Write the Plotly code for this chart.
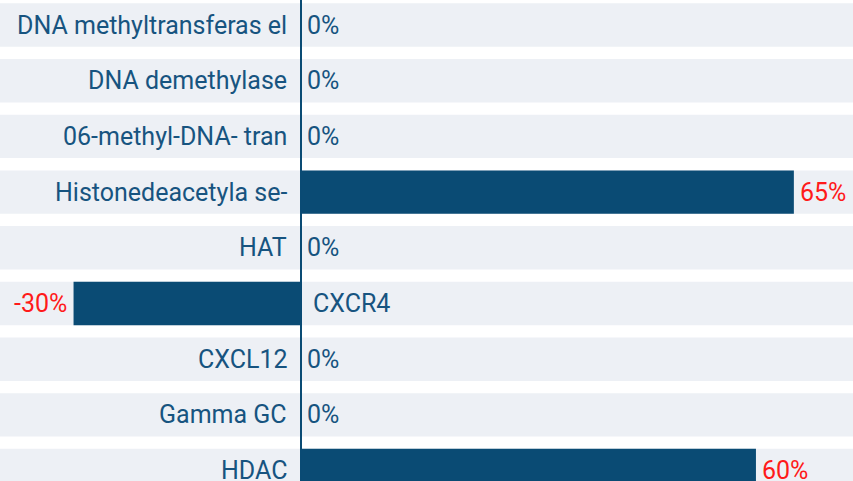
import plotly.graph_objects as go

categories = ["DNA methyltransferas el", "DNA demethylase", "06-methyl-DNA- tran",
              "Histonedeacetyla se-", "HAT", "CXCR4", "CXCL12", "Gamma GC", "HDAC"]
values = [0, 0, 0, 65, 0, -30, 0, 0, 60]

BAR = "#0a4b74"
TXT = "#175480"
BAND = "#edf0f5"
RED = "#ff1a1a"
FONT = "Roboto, sans-serif"
FS = 25

idx = list(range(len(categories)))
fig = go.Figure()
fig.add_trace(go.Bar(x=values, y=idx, orientation="h", width=0.78,
                     marker=dict(color=BAR, line=dict(width=0)), hoverinfo="skip"))

shapes = []
annotations = []
for i, (c, v) in enumerate(zip(categories, values)):
    shapes.append(dict(type="rect", xref="paper", yref="y", x0=0, x1=1,
                       y0=i - 0.39, y1=i + 0.39, fillcolor=BAND, line=dict(width=0),
                       layer="below"))
    if v < 0:
        annotations.append(dict(x=0, y=i, xref="x", yref="y", text=c, showarrow=False,
                                xanchor="left", xshift=10, font=dict(color=TXT, size=FS, family=FONT)))
        annotations.append(dict(x=v, y=i, xref="x", yref="y", text=f"{v}%", showarrow=False,
                                xanchor="right", xshift=-5, font=dict(color=RED, size=FS, family=FONT)))
    else:
        annotations.append(dict(x=0, y=i, xref="x", yref="y", text=c, showarrow=False,
                                xanchor="right", xshift=-12, font=dict(color=TXT, size=FS, family=FONT)))
        col = RED if v != 0 else TXT
        annotations.append(dict(x=v, y=i, xref="x", yref="y", text=f"{v}%", showarrow=False,
                                xanchor="left", xshift=4, font=dict(color=col, size=FS, family=FONT)))

fig.update_layout(
    width=853, height=481, margin=dict(l=0, r=0, t=0, b=0),
    paper_bgcolor="white", plot_bgcolor="white",
    showlegend=False, shapes=shapes, annotations=annotations,
    xaxis=dict(range=[-39.7, 72.8], showgrid=False, showticklabels=False,
               zeroline=True, zerolinecolor=BAR, zerolinewidth=2),
    yaxis=dict(range=[8.187, -0.449], showgrid=False, showticklabels=False, zeroline=False),
)
fig.write_html("out.html")
